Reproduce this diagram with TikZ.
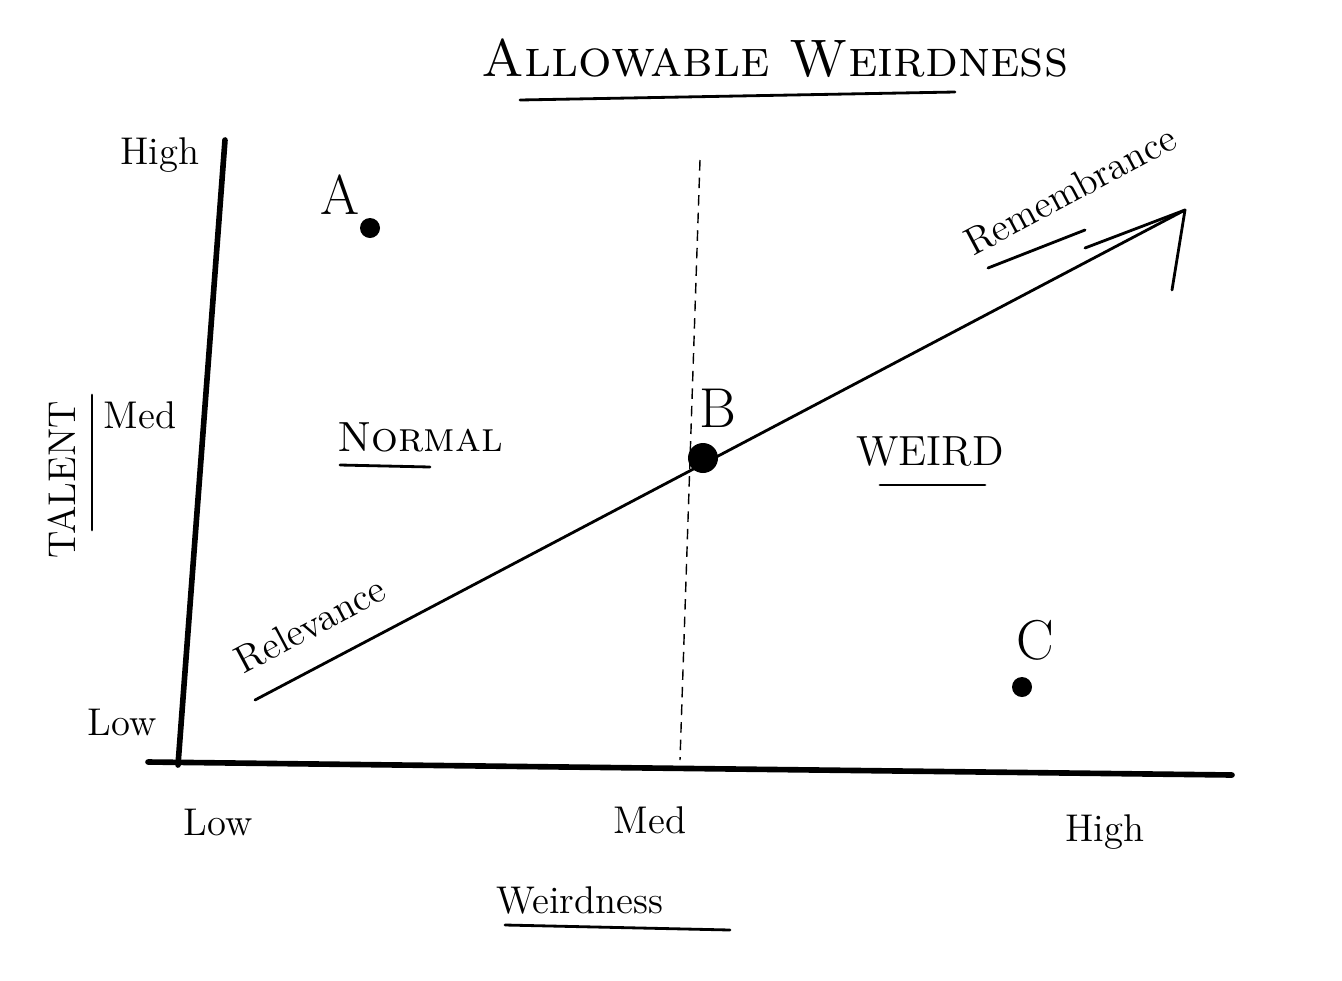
\documentclass[tikz,border=0pt]{standalone}
\usetikzlibrary{arrows.meta}
\begin{document}
\begin{tikzpicture}[
    x=1cm,
    y=1cm,
    axis/.style={line width=1.6pt,line cap=round},
    guide/.style={densely dashed,thin},
    trend/.style={thick,line cap=round},
    underline/.style={thick,line cap=round},
    titlelabel/.style={font=\fontsize{15}{18}\selectfont\scshape},
    biglabel/.style={font=\fontsize{12}{14}\selectfont},
    ticklabel/.style={font=\fontsize{11}{13}\selectfont},
    pointlabel/.style={font=\fontsize{16}{19}\selectfont},
    pointdot/.style={circle,fill=black,inner sep=0pt,minimum size=#1}
  ]
    \useasboundingbox (0,0) rectangle (13.42,9.80);

    % title
    \node[titlelabel] (title) at (7.75,9.22) {Allowable Weirdness};
    \draw[underline] (5.20,8.80) -- (9.55,8.88);

    % axes
    \coordinate (origin) at (1.78,2.15);
    \coordinate (ytop) at (2.25,8.40);
    \coordinate (xend) at (12.32,2.05);
    \draw[axis] (origin) -- (ytop);
    \draw[axis] (1.48,2.18) -- (xend);

    \node[ticklabel] (yhigh) at (1.60,8.25) {High};
    \node[ticklabel] (ymed) at (1.40,5.65) {Med};
    \node[ticklabel] (ylow) at (1.22,2.58) {Low};
    \node[ticklabel,rotate=90] (talent) at (0.62,5.00) {TALENT};
    \draw[underline] (0.92,4.50) -- (0.92,5.85);

    \node[ticklabel] (xlow) at (2.18,1.58) {Low};
    \node[ticklabel] (xmed) at (6.50,1.60) {Med};
    \node[ticklabel] (xhigh) at (11.05,1.48) {High};
    \node[ticklabel] (weird) at (5.80,0.80) {Weirdness};
    \draw[underline] (5.05,0.55) -- (7.30,0.50);

    % split between normal and weird
    \draw[guide] (7.00,8.20) -- (6.80,2.20);

    % relevance to remembrance, open hand-drawn head
    \coordinate (relstart) at (2.55,2.80);
    \coordinate (remend) at (11.85,7.70);
    \draw[trend] (relstart) -- (remend);
    \draw[trend] (remend) -- ++(-1.00,-0.38);
    \draw[trend] (remend) -- ++(-0.13,-0.80);
    \node[ticklabel,rotate=28] (relevance) at (3.10,3.55) {Relevance};
    \node[ticklabel,rotate=28] (remembrance) at (10.70,7.90) {Remembrance};
    \draw[underline] (9.88,7.12) -- (10.85,7.50);

    % regions
    \node[biglabel] (normal) at (4.20,5.43) {\textsc{Normal}};
    \draw[underline] (3.40,5.15) -- (4.30,5.13);
    \node[biglabel] (weirdzone) at (9.30,5.28) {WEIRD};
    \draw[underline] (8.80,4.95) -- (9.85,4.95);

    % points
    \node[pointlabel] (labA) at (3.40,7.85) {A};
    \node[pointdot=2mm] (ptA) at (3.70,7.52) {};
    \node[pointlabel] (labB) at (7.18,5.72) {B};
    \node[pointdot=3mm] (ptB) at (7.03,5.22) {};
    \node[pointlabel] (labC) at (10.35,3.40) {C};
    \node[pointdot=2mm] (ptC) at (10.22,2.93) {};
  \end{tikzpicture}
\end{document}
